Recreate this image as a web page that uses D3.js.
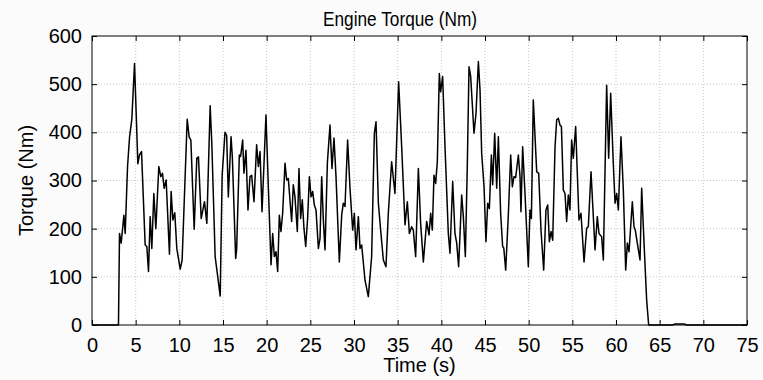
<!DOCTYPE html>
<html>
<head>
<meta charset="utf-8">
<script src="https://cdn.jsdelivr.net/npm/d3@7"></script>
<style>
  body { margin: 0; background: #fbfbfb; }
  text { font-family: 'Liberation Sans', Arial, sans-serif; fill: #000; }
</style>
</head>
<body>
<script>
const time = [
  0, 3.03, 3.15, 3.34, 3.53, 3.65, 3.8, 4.07, 4.3, 4.56, 4.87, 5.25, 5.44, 5.67, 6.09, 6.28, 6.47, 6.66, 6.85,
  7.08, 7.31, 7.65, 7.88, 8.07, 8.26, 8.49, 8.87, 9.06, 9.26, 9.48, 9.71, 10.1, 10.32, 10.9, 11.13, 11.32,
  11.7, 12.0, 12.19, 12.5, 12.88, 13.15, 13.53, 13.72, 14.1, 14.37, 14.68, 14.9, 15.23, 15.42, 15.61, 15.92,
  16.07, 16.45, 16.56, 16.87, 17.02, 17.25, 17.4, 17.63, 17.86, 18.09, 18.28, 18.55, 18.85, 19.05, 19.24,
  19.47, 19.92, 20.19, 20.5, 20.69, 20.88, 21.07, 21.26, 21.45, 21.64, 21.83, 22.1, 22.29, 22.48, 22.86,
  23.05, 23.24, 23.51, 23.7, 23.89, 24.08, 24.27, 24.47, 24.69, 24.89, 25.08, 25.27, 25.46, 25.65, 25.92,
  26.11, 26.3, 26.49, 26.68, 26.95, 27.25, 27.48, 27.71, 27.94, 28.32, 28.59, 28.78, 28.97, 29.27, 29.54,
  29.85, 30.04, 30.23, 30.5, 30.69, 30.88, 31.26, 31.64, 32.02, 32.33, 32.52, 32.79, 33.05, 33.36, 33.66,
  33.93, 34.31, 34.69, 35.11, 35.46, 35.84, 36.11, 36.34, 36.6, 36.79, 37.06, 37.37, 37.63, 37.94, 38.32,
  38.59, 38.78, 38.97, 39.16, 39.35, 39.54, 39.77, 39.92, 40.15, 40.42, 40.8, 40.99, 41.3, 41.56, 41.76,
  41.98, 42.33, 42.52, 42.75, 42.98, 43.17, 43.36, 43.74, 43.97, 44.24, 44.43, 44.62, 44.89, 45.11, 45.31,
  45.5, 45.73, 45.88, 46.11, 46.34, 46.53, 46.79, 47.02, 47.15, 47.37, 47.67, 47.94, 48.13, 48.32, 48.51,
  48.82, 49.01, 49.12, 49.31, 49.58, 49.96, 50.15, 50.31, 50.53, 50.92, 51.15, 51.41, 51.72, 51.98, 52.18,
  52.37, 52.56, 52.75, 53.02, 53.21, 53.4, 53.59, 53.75, 53.97, 54.16, 54.35, 54.54, 54.73, 54.92, 55.11,
  55.38, 55.76, 55.99, 56.34, 56.64, 56.83, 57.14, 57.6, 57.86, 58.05, 58.36, 58.55, 58.93, 59.16, 59.39,
  59.69, 59.89, 60.08, 60.27, 60.57, 60.84, 61.11, 61.3, 61.49, 61.87, 62.06, 62.21, 62.44, 62.75, 62.94,
  63.21, 63.51, 63.74, 66.4, 66.8, 67.8, 68.1, 75,
];

const torque = [
  0, 0, 190, 170, 205, 228, 190, 329, 390, 427, 543, 335, 353, 360, 166, 163, 111, 225, 159,
  273, 200, 329, 308, 315, 284, 301, 147, 277, 218, 233, 159, 116, 135, 427, 390, 384,
  199, 346, 349, 221, 256, 211, 455, 377, 142, 104, 60, 310, 400, 393, 266, 391,
  349, 138, 156, 353, 350, 384, 315, 363, 239, 308, 311, 256, 374, 329, 360,
  235, 436, 287, 125, 190, 142, 152, 111, 228, 194, 232, 336, 301, 304, 215,
  291, 266, 194, 325, 221, 260, 201, 163, 221, 308, 266, 277, 249, 239, 159,
  180, 308, 218, 156, 336, 415, 325, 388, 308, 131, 228, 253, 246, 384, 284,
  197, 232, 156, 225, 159, 166, 93, 59, 142, 398, 422, 253, 197, 135, 121,
  232, 339, 273, 505, 370, 208, 256, 190, 204, 197, 142, 325, 211, 131, 215,
  187, 232, 197, 311, 294, 339, 522, 484, 516, 370, 190, 149, 298, 190, 170,
  121, 270, 225, 142, 336, 536, 516, 398, 439, 547, 488, 356, 287, 173, 253,
  242, 353, 291, 398, 284, 391, 232, 163, 160, 114, 228, 353, 287, 308, 306,
  353, 308, 235, 370, 273, 121, 239, 221, 467, 318, 315, 197, 114, 239, 249,
  173, 194, 176, 370, 426, 429, 415, 412, 280, 273, 215, 270, 239, 384, 346,
  412, 218, 232, 131, 201, 204, 318, 156, 225, 190, 183, 135, 498, 346, 481,
  336, 253, 273, 239, 391, 280, 114, 170, 152, 256, 204, 197, 170, 135, 284,
  170, 52, 0, 0, 2, 2, 0, 0,
];

const xTicks = d3.range(0, 76, 5);
const yTicks = [0, 100, 200, 300, 400, 500, 600];

const width = 763;
const height = 380;
const margin = { top: 36, right: 16, bottom: 55, left: 92 };

function main() {
  const svg = d3.select('body').append('svg').attr('width', width).attr('height', height);

  const xScale = d3.scaleLinear().domain([0, 75]).range([margin.left, width - margin.right]);
  const yScale = d3.scaleLinear().domain([0, 600]).range([height - margin.bottom, margin.top]);

  svg
    .append('rect')
    .attr('x', xScale(0))
    .attr('y', yScale(600))
    .attr('width', xScale(75) - xScale(0))
    .attr('height', yScale(0) - yScale(600))
    .attr('fill', '#fff');

  createGrid(svg, xScale, yScale);
  createAxes(svg, xScale, yScale);

  const line = d3
    .line()
    .x((_, i) => xScale(time[i]))
    .y(d => yScale(d));

  svg
    .append('path')
    .datum(torque)
    .attr('fill', 'none')
    .attr('stroke', '#000')
    .attr('stroke-width', 1.5)
    .attr('stroke-linejoin', 'round')
    .attr('d', line);

  // box
  svg
    .append('rect')
    .attr('x', xScale(0))
    .attr('y', yScale(600))
    .attr('width', xScale(75) - xScale(0))
    .attr('height', yScale(0) - yScale(600))
    .attr('fill', 'none')
    .attr('stroke', '#000')
    .attr('stroke-width', 1);

  // title is a bit condensed in the original
  svg
    .append('text')
    .attr('x', 400)
    .attr('y', 26)
    .attr('text-anchor', 'middle')
    .attr('textLength', 154)
    .attr('lengthAdjust', 'spacingAndGlyphs')
    .style('font-size', '20px')
    .text('Engine Torque (Nm)');

  svg
    .append('text')
    .attr('x', (xScale(0) + xScale(75)) / 2)
    .attr('y', 372)
    .attr('text-anchor', 'middle')
    .style('font-size', '20px')
    .text('Time (s)');

  svg
    .append('text')
    .attr('transform', `translate(33, ${(yScale(0) + yScale(600)) / 2}) rotate(-90)`)
    .attr('text-anchor', 'middle')
    .style('font-size', '20px')
    .text('Torque (Nm)');
}

function createGrid(svg, xScale, yScale) {
  const grid = svg.append('g').attr('stroke', '#b8b8b8').attr('stroke-width', 0.8).attr('stroke-dasharray', '1,2');

  grid
    .selectAll('.vgrid')
    .data(xTicks.slice(1, -1))
    .enter()
    .append('line')
    .attr('x1', d => xScale(d))
    .attr('x2', d => xScale(d))
    .attr('y1', yScale(0))
    .attr('y2', yScale(600));

  grid
    .selectAll('.hgrid')
    .data(yTicks.slice(1, -1))
    .enter()
    .append('line')
    .attr('x1', xScale(0))
    .attr('x2', xScale(75))
    .attr('y1', d => yScale(d))
    .attr('y2', d => yScale(d));
}

function createAxes(svg, xScale, yScale) {
  const styleAxis = g => {
    g.select('.domain').remove();
    g.selectAll('.tick line').attr('stroke', '#000');
    g.selectAll('.tick text').style('font-size', '20px').style('font-family', "'Liberation Sans', Arial, sans-serif");
  };

  svg
    .append('g')
    .attr('transform', `translate(0, ${yScale(0)})`)
    .call(d3.axisBottom(xScale).tickValues(xTicks).tickSizeInner(-5).tickSizeOuter(0).tickPadding(13))
    .call(styleAxis);

  svg
    .append('g')
    .attr('transform', `translate(0, ${yScale(600)})`)
    .call(d3.axisTop(xScale).tickValues(xTicks).tickSizeInner(-5).tickSizeOuter(0).tickFormat(''))
    .call(styleAxis);

  svg
    .append('g')
    .attr('transform', `translate(${xScale(0)}, 0)`)
    .call(d3.axisLeft(yScale).tickValues(yTicks).tickSizeInner(-5).tickSizeOuter(0).tickPadding(10))
    .call(styleAxis);

  svg
    .append('g')
    .attr('transform', `translate(${xScale(75)}, 0)`)
    .call(d3.axisRight(yScale).tickValues(yTicks).tickSizeInner(-5).tickSizeOuter(0).tickFormat(''))
    .call(styleAxis);
}

main();
</script>
</body>
</html>
